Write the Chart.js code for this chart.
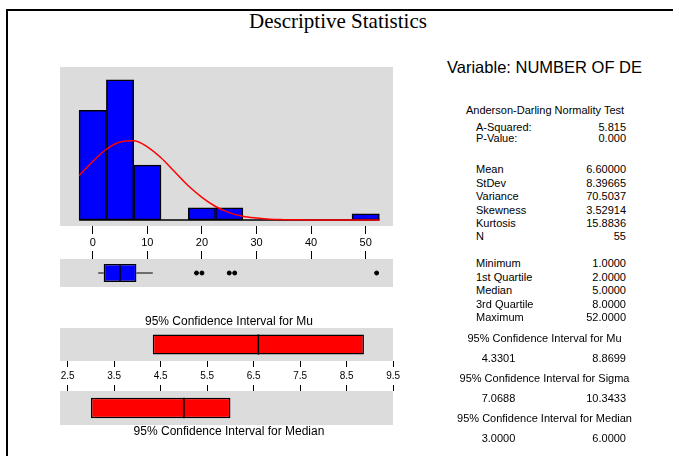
<!DOCTYPE html>
<html>
<head>
<meta charset="utf-8">
<script src="https://cdn.jsdelivr.net/npm/chart.js@4/dist/chart.umd.min.js"></script>
<style>
  html, body { margin: 0; padding: 0; background: #fff; }
  body { width: 673px; height: 456px; position: relative; overflow: hidden;
         font-family: Arial, "Liberation Sans", sans-serif; color: #000; }
  .frame { position: absolute; left: 6px; top: 9px; width: 720px; height: 500px;
           border-left: 2px solid #000; border-top: 2px solid #000; }
  canvas { position: absolute; }
  .t { position: absolute; white-space: nowrap; line-height: 1; }
</style>
</head>
<body>
<div class="frame"></div>
<canvas id="hist" width="373" height="195" style="left:40px;top:57px"></canvas>
<canvas id="box" width="373" height="42" style="left:40px;top:250px"></canvas>
<canvas id="ciMu" width="373" height="69" style="left:40px;top:318px"></canvas>
<canvas id="ciMed" width="373" height="44" style="left:40px;top:381px"></canvas>
<div id="texts"></div>
<script>
// Histogram: bin centres (width 5) and counts
const histBins = [0, 5, 10, 15, 20, 25, 30, 35, 40, 45, 50];
const histCounts = [18, 23, 9, 0, 2, 2, 0, 0, 0, 0, 1];
const histTicks = [0, 10, 20, 30, 40, 50];

// Fitted normal curve, in count units
const curveX = [-2.5, 0, 2.5, 5, 7.5, 10, 12.5, 15, 17.5, 20, 22.5, 25, 27.5, 30,
                32.5, 35, 37.5, 40, 42.5, 45, 47.5, 50, 52.5];
const curveY = [7.3, 9.6, 11.6, 12.8, 13.0, 12.0, 10.2, 7.9, 5.6, 3.7, 2.2, 1.2, 0.6, 0.3,
                0.1, 0.04, 0.01, 0, 0, 0, 0, 0, 0];

// Summary table
const adRows = [['A-Squared:', '5.815'], ['P-Value:', '0.000']];
const momentRows = [['Mean', '6.60000'], ['StDev', '8.39665'], ['Variance', '70.5037'],
                    ['Skewness', '3.52914'], ['Kurtosis', '15.8836'], ['N', '55']];
const quantileRows = [['Minimum', '1.0000'], ['1st Quartile', '2.0000'], ['Median', '5.0000'],
                      ['3rd Quartile', '8.0000'], ['Maximum', '52.0000']];
const ciRows = [['95% Confidence Interval for Mu', '4.3301', '8.8699'],
                ['95% Confidence Interval for Sigma', '7.0688', '10.3433'],
                ['95% Confidence Interval for Median', '3.0000', '6.0000']];

// Boxplot extras
const upperWhisker = 11;
const outliers = [19, 20, 25, 26, 52];
const ciTicks = [2.5, 3.5, 4.5, 5.5, 6.5, 7.5, 8.5, 9.5];

const num = s => Number(s);
const meanVal = num(momentRows[0][1]);
const minVal = num(quantileRows[0][1]);
const q1 = num(quantileRows[1][1]);
const medianVal = num(quantileRows[2][1]);
const q3 = num(quantileRows[3][1]);
const ciMu = ciRows[0].slice(1).map(num);
const ciMedian = ciRows[2].slice(1).map(num);

Chart.defaults.font.family = 'Arial, "Liberation Sans", sans-serif';
Chart.defaults.color = '#000';

const PANEL = '#DCDCDC';
const panelBg = {
  id: 'panelBg',
  beforeDraw(chart) {
    const { ctx, chartArea: a } = chart;
    ctx.save();
    ctx.fillStyle = PANEL;
    ctx.fillRect(a.left, a.top, a.right - a.left, a.bottom - a.top);
    ctx.restore();
  }
};
// vertical divider inside the first bar (median / mean marker)
const midLine = {
  id: 'midLine',
  afterDatasetsDraw(chart, args, opts) {
    const bar = chart.getDatasetMeta(0).data[0];
    const x = chart.scales.x.getPixelForValue(opts.value);
    const ctx = chart.ctx;
    ctx.save();
    ctx.strokeStyle = '#000';
    ctx.lineWidth = 1.5;
    ctx.beginPath();
    ctx.moveTo(x, bar.y - bar.height / 2);
    ctx.lineTo(x, bar.y + bar.height / 2);
    ctx.stroke();
    ctx.restore();
  }
};

const baseOpts = {
  responsive: false,
  maintainAspectRatio: false,
  animation: false,
  events: [],
  layout: { padding: { left: 20, right: 20, top: 0, bottom: 0 } },
  plugins: { legend: { display: false }, tooltip: { enabled: false } }
};

function xAxis(min, max, ticks, opts) {
  return {
    type: 'linear', min, max, offset: false,
    position: opts.position,
    afterBuildTicks: s => { s.ticks = ticks.map(v => ({ value: v })); },
    afterFit: s => { s.height = opts.height; },
    border: { display: false },
    grid: { offset: false, drawOnChartArea: false, drawTicks: true, tickLength: opts.tickLength,
            color: '#000', tickColor: '#000', lineWidth: 1 },
    ticks: { display: opts.labels, padding: opts.padding, maxRotation: 0, autoSkip: false,
             font: { size: opts.fontSize }, color: '#000', callback: opts.fmt }
  };
}

// Histogram with fitted normal curve
const binWidth = histBins[1] - histBins[0];
new Chart(document.getElementById('hist'), {
  type: 'bar',
  data: {
    datasets: [
      { type: 'line', data: curveX.map((x, i) => ({ x, y: curveY[i] })),
        borderColor: '#FF0000', borderWidth: 1.5, pointRadius: 0,
        cubicInterpolationMode: 'monotone', order: 0 },
      { type: 'line',
        data: [{ x: histBins[0] - binWidth / 2, y: 0 },
               { x: histBins[histBins.length - 1] + binWidth / 2, y: 0 }],
        borderColor: '#000', borderWidth: 1.5, pointRadius: 0, order: 1 },
      { type: 'bar', data: histBins.map((x, i) => ({ x, y: histCounts[i] })),
        backgroundColor: '#0000FF', borderColor: '#000', borderWidth: 1.5,
        borderSkipped: false, barPercentage: 1, categoryPercentage: 1, order: 2 }
    ]
  },
  options: Object.assign({}, baseOpts, {
    layout: { padding: { left: 20, right: 20, top: 10, bottom: 0 } },
    scales: {
      x: xAxis(-6, 55, histTicks, { position: 'bottom', height: 26, tickLength: 8,
          labels: true, padding: 2, fontSize: 11, fmt: v => String(v) }),
      y: { display: false, min: -1, max: 25.1 }
    }
  }),
  plugins: [panelBg]
});

// Boxplot
new Chart(document.getElementById('box'), {
  type: 'bar',
  data: {
    labels: ['box'],
    datasets: [
      { type: 'bar', data: [[q1, q3]], backgroundColor: '#0000FF', borderColor: '#000',
        borderWidth: 1.5, borderSkipped: false, barPercentage: 0.65, categoryPercentage: 1, order: 2 },
      { type: 'line', indexAxis: 'y',
        data: [{ x: minVal, y: 'box' }, { x: q1, y: 'box' }, { x: null, y: 'box' },
               { x: q3, y: 'box' }, { x: upperWhisker, y: 'box' }],
        borderColor: '#000', borderWidth: 1, pointRadius: 0, spanGaps: false, order: 1 },
      { type: 'scatter', indexAxis: 'y', data: outliers.map(v => ({ x: v, y: 'box' })),
        pointRadius: 2, backgroundColor: '#000', borderColor: '#000', order: 0 }
    ]
  },
  options: Object.assign({}, baseOpts, {
    indexAxis: 'y',
    plugins: Object.assign({}, baseOpts.plugins, { midLine: { value: medianVal } }),
    scales: {
      x: xAxis(-6, 55, histTicks, { position: 'top', height: 9, tickLength: 8,
          labels: false, padding: 0, fontSize: 11, fmt: v => String(v) }),
      y: { display: false }
    }
  }),
  plugins: [panelBg, midLine]
});

// Confidence interval bars
function ciChart(id, range, centre, axisOpts, padTop) {
  new Chart(document.getElementById(id), {
    type: 'bar',
    data: {
      labels: ['ci'],
      datasets: [{ data: [range], backgroundColor: '#FF0000', borderColor: '#000',
                   borderWidth: 1.5, borderSkipped: false, barPercentage: 0.61, categoryPercentage: 1 }]
    },
    options: Object.assign({}, baseOpts, {
      indexAxis: 'y',
      layout: { padding: { left: 20, right: 20, top: padTop, bottom: 0 } },
      plugins: Object.assign({}, baseOpts.plugins, { midLine: { value: centre } }),
      scales: {
        x: xAxis(2.335, 9.495, ciTicks, axisOpts),
        y: { display: false }
      }
    }),
    plugins: [panelBg, midLine]
  });
}
ciChart('ciMu', ciMu, meanVal,
  { position: 'bottom', height: 26, tickLength: 6, labels: true, padding: 3, fontSize: 10,
    fmt: v => v.toFixed(1) }, 10);
ciChart('ciMed', ciMedian, medianVal,
  { position: 'top', height: 10, tickLength: 6, labels: false, padding: 0, fontSize: 10,
    fmt: v => v.toFixed(1) }, 0);

// Text
const host = document.getElementById('texts');
function put(text, x, y, size, align, family) {
  const d = document.createElement('div');
  d.className = 't';
  d.textContent = text;
  d.style.fontSize = size + 'px';
  d.style.top = y + 'px';
  if (family) d.style.fontFamily = family;
  if (align === 'left') { d.style.left = x + 'px'; d.style.transform = 'translateY(-50%)'; }
  else if (align === 'right') { d.style.right = (673 - x) + 'px'; d.style.transform = 'translateY(-50%)'; }
  else { d.style.left = x + 'px'; d.style.transform = 'translate(-50%,-50%)'; }
  host.appendChild(d);
}
put('Descriptive Statistics', 338, 21, 21, 'center', '"Times New Roman", "Liberation Serif", serif');
put(ciRows[0][0], 229, 320.7, 12, 'center');
put(ciRows[2][0], 229, 430.7, 12, 'center');

put('Variable: NUMBER OF DE', 447, 67.3, 16.5, 'left');
put('Anderson-Darling Normality Test', 545, 110, 11, 'center');
const LX = 476, RX = 626;
adRows.forEach((r, i) => { const y = 127.3 + i * 10.5; put(r[0], LX, y, 11, 'left'); put(r[1], RX, y, 11, 'right'); });
momentRows.forEach((r, i) => { const y = 169.3 + i * 13.4; put(r[0], LX, y, 11, 'left'); put(r[1], RX, y, 11, 'right'); });
quantileRows.forEach((r, i) => { const y = 263.3 + i * 13.5; put(r[0], LX, y, 11, 'left'); put(r[1], RX, y, 11, 'right'); });
ciRows.forEach((r, i) => {
  const y = 338.3 + i * 40;
  put(r[0], 544.5, y, 11, 'center');
  put(r[1], 481.7, y + 20, 11, 'left');
  put(r[2], RX, y + 20, 11, 'right');
});
</script>
</body>
</html>
